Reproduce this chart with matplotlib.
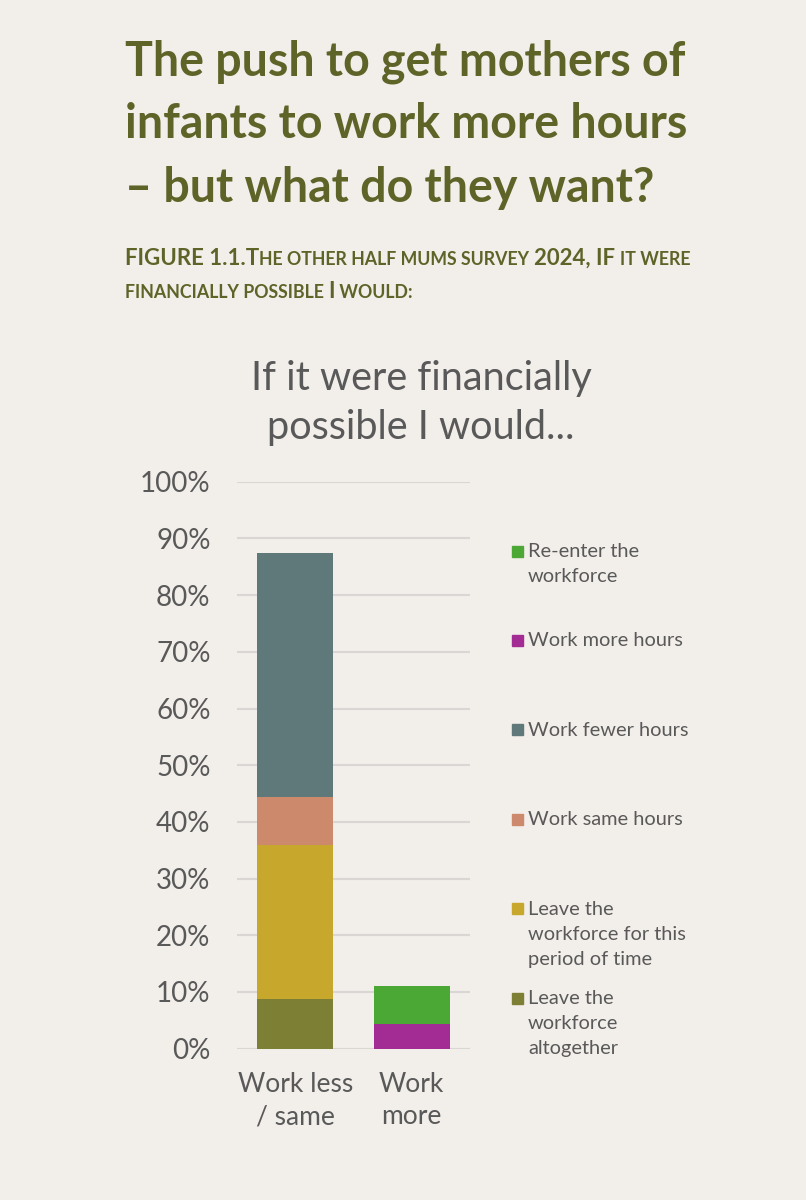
import matplotlib.pyplot as plt
from matplotlib.patches import Rectangle
import numpy as np

plt.rcParams['font.family'] = ['Lato', 'DejaVu Sans']

categories = ['Work less\n/ same', 'Work\nmore']
# stacked segments, bottom to top (fractions)
leave_altogether = [0.087, 0.0]
leave_period = [0.272, 0.0]
work_same = [0.085, 0.0]
work_fewer = [0.430, 0.0]
work_more = [0.0, 0.044]
reenter = [0.0, 0.066]

series = [
    ('Leave the\nworkforce\naltogether', leave_altogether, '#7d8034'),
    ('Leave the\nworkforce for this\nperiod of time', leave_period, '#c8a82c'),
    ('Work same hours', work_same, '#cc896c'),
    ('Work fewer hours', work_fewer, '#5f787a'),
    ('Work more hours', work_more, '#a22c94'),
    ('Re-enter the\nworkforce', reenter, '#4ba834'),
]
yticks = np.arange(0, 1.01, 0.1)

bg = '#f2eeea'
grey = '#595959'
olive = '#5e6428'

W, H = 806, 1200
fig = plt.figure(figsize=(W / 100, H / 100), dpi=100)
fig.patch.set_facecolor(bg)


def line_text(x, yb, s, **kw):
    # yb = baseline in pixels from the top
    return fig.text(x / W, 1 - yb / H, s, va='baseline', **kw)


# headline
head = ['The push to get mothers of', 'infants to work more hours', '– but what do they want?']
for i, s in enumerate(head):
    line_text(125, 75 + i * 63.5, s, fontsize=33.5, color=olive, fontweight='bold', ha='left')

# small caps subtitle
renderer = fig.canvas.get_renderer()
sub_lines = [
    (265, [('FIGURE 1.1.T', 1), ('HE OTHER HALF MUMS SURVEY ', 0), ('2024, IF ', 1), ('IT WERE', 0)]),
    (298, [('FINANCIALLY POSSIBLE ', 0), ('I', 1), (' WOULD:', 0)]),
]
for yb, pieces in sub_lines:
    x = 125
    for txt, big in pieces:
        t = line_text(x, yb, txt.replace(' ', '\u00a0'), fontsize=16 if big else 12.8,
                      color=olive, fontweight='bold', ha='left')
        x = t.get_window_extent(renderer).x1

ax = fig.add_axes([237 / W, 151.3 / H, 233 / W, 567 / H])
ax.set_facecolor(bg)
x = np.arange(len(categories))
bottom = np.zeros(len(categories))
for label, vals, col in series:
    ax.bar(x, vals, 0.65, bottom=bottom, color=col, zorder=3)
    bottom += np.array(vals)

ax.set_xlim(-0.5, 1.5)
ax.set_ylim(0, 1)
ax.set_yticks(yticks)
ax.set_yticklabels([f'{int(round(v * 100))}%' for v in yticks])
ax.set_xticks(x)
ax.set_xticklabels(categories, linespacing=1.35)
ax.grid(axis='y', color='#d9d6d3', linewidth=1.5, zorder=0)
for s in ax.spines.values():
    s.set_visible(False)
ax.tick_params(axis='y', length=0, pad=19, labelsize=20, labelcolor=grey)
ax.tick_params(axis='x', length=0, pad=17, labelsize=19, labelcolor=grey)

# chart title
for i, s in enumerate(['If it were financially', 'possible I would...']):
    line_text(421, 390 + i * 49, s, fontsize=28.5, color=grey, ha='center')

# legend
leg_y = np.linspace(551, 998, 6)
for (label, vals, col), yc in zip(series[::-1], leg_y):
    fig.patches.append(Rectangle((512 / W, 1 - (yc + 5.5) / H), 11 / W, 11 / H,
                                 transform=fig.transFigure, color=col, figure=fig))
    for k, s in enumerate(label.split('\n')):
        line_text(528, yc + 6 + k * 25, s, fontsize=14.4, color=grey, ha='left')

fig.savefig('out.png', dpi=100, facecolor=bg)
